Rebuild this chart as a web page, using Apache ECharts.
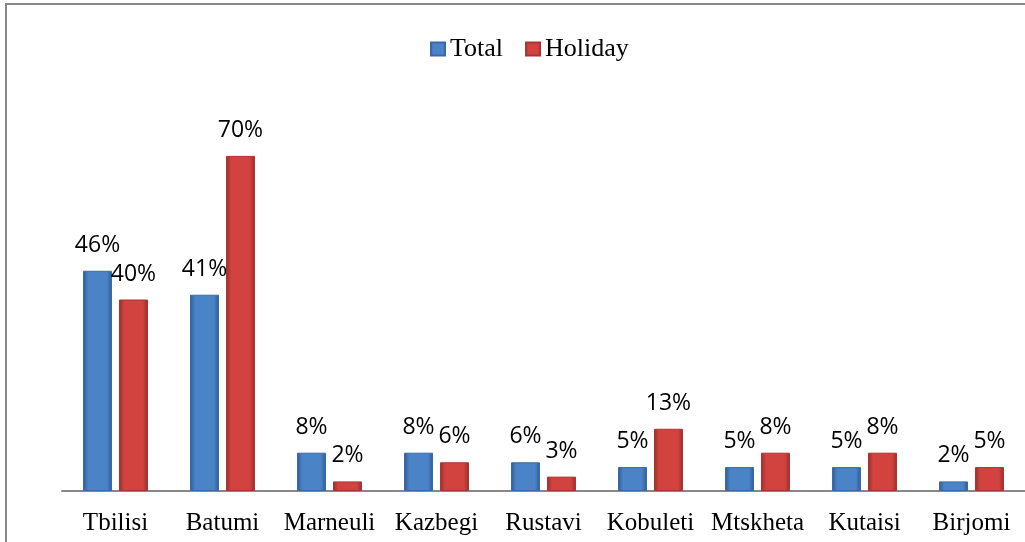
<!DOCTYPE html>
<html>
<head>
    <meta charset="utf-8">
    <title>ECharts</title>
    <script src="https://cdn.jsdelivr.net/npm/echarts@6/dist/echarts.min.js"></script>
</head>
<body style="margin:0">
    <div id="main" style="width:1025px;height:542px;"></div>
    <script type="text/javascript">
        var cities = ['Tbilisi', 'Batumi', 'Marneuli', 'Kazbegi', 'Rustavi', 'Kobuleti', 'Mtskheta', 'Kutaisi', 'Birjomi'];
        var total = [46, 41, 8, 8, 6, 5, 5, 5, 2];
        var holiday = [40, 70, 2, 6, 3, 13, 8, 8, 5];

        function bevel(edge, mid) {
            return new echarts.graphic.LinearGradient(0, 0, 1, 0, [
                {offset: 0, color: edge},
                {offset: 0.18, color: mid},
                {offset: 0.82, color: mid},
                {offset: 1, color: edge}
            ]);
        }

        var myChart = echarts.init(document.getElementById('main'));

        var labelStyle = {
            show: true,
            position: 'top',
            distance: 14,
            fontFamily: 'Open Sans',
            fontSize: 23,
            color: '#000',
            formatter: '{c}%'
        };

        var option = {
            animation: false,
            graphic: [{
                type: 'rect',
                shape: {x: 6, y: 4, width: 1100, height: 600},
                style: {fill: 'none', stroke: '#888', lineWidth: 2}
            }],
            legend: {
                top: 31,
                left: 425,
                itemWidth: 14,
                itemHeight: 13,
                itemGap: 22,
                textStyle: {fontFamily: 'Liberation Serif', fontSize: 26, color: '#000'},
                data: [
                    {name: 'Total', icon: 'rect'},
                    {name: 'Holiday', icon: 'rect'}
                ]
            },
            grid: {left: 62, right: -9, top: 108, bottom: 51},
            xAxis: {
                type: 'category',
                data: cities,
                axisTick: {show: false},
                axisLine: {lineStyle: {color: '#888', width: 2}},
                axisLabel: {interval: 0, fontFamily: 'Liberation Serif', fontSize: 25, color: '#000', margin: 20}
            },
            yAxis: {
                type: 'value',
                min: 0,
                max: 80,
                show: false,
                splitLine: {show: false}
            },
            series: [{
                name: 'Total',
                type: 'bar',
                data: total,
                barWidth: 29,
                barGap: '24%',
                itemStyle: {color: bevel('#2c5b95', '#4b83c7'), borderColor: '#3a6aa6', borderWidth: 1},
                label: labelStyle
            }, {
                name: 'Holiday',
                type: 'bar',
                data: holiday,
                barWidth: 29,
                itemStyle: {color: bevel('#972e2b', '#d2433f'), borderColor: '#a83532', borderWidth: 1},
                label: labelStyle
            }]
        };

        myChart.setOption(option);
    </script>
</body>
</html>
